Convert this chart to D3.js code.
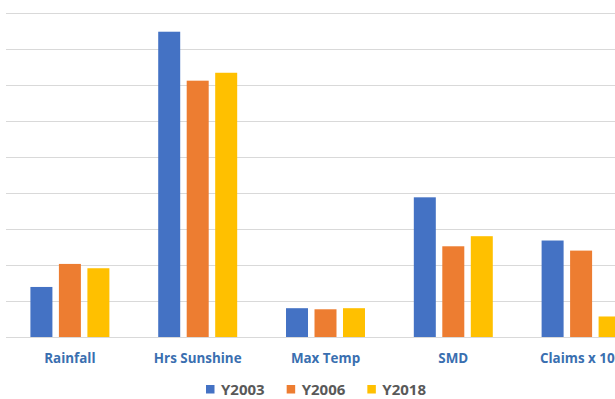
<!DOCTYPE html>
<html>
<head>
<meta charset="utf-8">
<script src="https://cdn.jsdelivr.net/npm/d3@7"></script>
<style>
  html, body { margin: 0; padding: 0; background: #ffffff; overflow: hidden; }
  svg { display: block; }
</style>
</head>
<body>
<svg id="chart" width="615" height="399"></svg>
<script>
const categories = ["Rainfall", "Hrs Sunshine", "Max Temp", "SMD", "Claims x 100"];
const seriesNames = ["Y2003", "Y2006", "Y2018"];
const seriesColors = ["#4472C4", "#ED7D31", "#FFC000"];
const y2003 = [1.39, 8.48, 0.80, 3.88, 2.68];
const y2006 = [2.03, 7.12, 0.77, 2.52, 2.40];
const y2018 = [1.91, 7.34, 0.80, 2.80, 0.57];
const gridTicks = [0, 1, 2, 3, 4, 5, 6, 7, 8, 9];

const seriesValues = [y2003, y2006, y2018];
const data = categories.map((c, i) => ({
  category: c,
  values: seriesNames.map((s, j) => ({ series: s, value: seriesValues[j][i], color: seriesColors[j] }))
}));

const svg = d3.select("#chart");
const plotLeft = 6, plotRight = 645, plotTop = 13, plotBottom = 337;

const x0 = d3.scaleBand().domain(categories).range([plotLeft, plotRight])
  .paddingInner(0.382).paddingOuter(0.191);
const x1 = d3.scaleBand().domain(seriesNames).range([0, x0.bandwidth()]).paddingInner(0.228);
const y = d3.scaleLinear().domain([0, 9]).range([plotBottom, plotTop]);

// gridlines
svg.append("g").selectAll("line").data(gridTicks).join("line")
  .attr("x1", plotLeft).attr("x2", plotRight)
  .attr("y1", d => Math.round(y(d)) + 0.5).attr("y2", d => Math.round(y(d)) + 0.5)
  .attr("stroke", "#d9d9d9").attr("stroke-width", 1);

// bars
const groups = svg.append("g").selectAll("g").data(data).join("g")
  .attr("transform", d => `translate(${x0(d.category)},0)`);
groups.selectAll("rect").data(d => d.values).join("rect")
  .attr("x", d => x1(d.series))
  .attr("width", x1.bandwidth())
  .attr("y", d => y(d.value))
  .attr("height", d => y(0) - y(d.value))
  .attr("fill", d => d.color);

// category axis
const xAxis = d3.axisBottom(x0).tickSize(0).tickPadding(0);
const ax = svg.append("g").attr("transform", `translate(0,${plotBottom})`).call(xAxis);
ax.select(".domain").remove();
ax.selectAll("text")
  .attr("dy", null).attr("y", 26)
  .attr("fill", "#3A6FB0")
  .style("font-family", "'Open Sans', sans-serif")
  .style("font-weight", "700")
  .style("font-size", "13.4px");

// legend
const legend = svg.append("g");
let lx = 206;
seriesNames.forEach((s, i) => {
  legend.append("rect").attr("x", lx).attr("y", 385).attr("width", 8.5).attr("height", 8.5)
    .attr("fill", seriesColors[i]);
  const t = legend.append("text").attr("x", lx + 15).attr("y", 395)
    .attr("fill", "#595959")
    .style("font-family", "'Open Sans', sans-serif")
    .style("font-weight", "700")
    .style("font-size", "15px")
    .text(s);
  lx = lx + 15 + t.node().getComputedTextLength() + 22;
});
</script>
</body>
</html>
